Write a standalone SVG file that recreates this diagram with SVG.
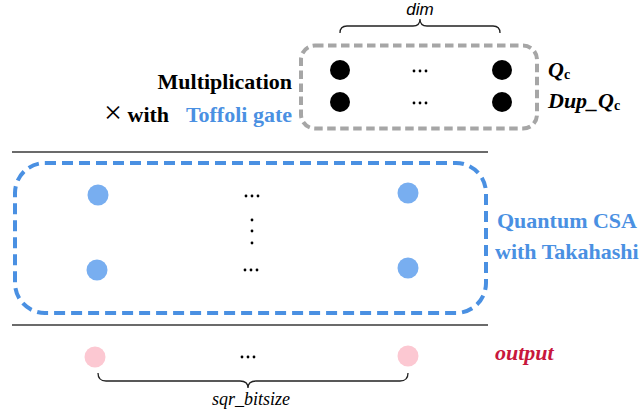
<svg xmlns="http://www.w3.org/2000/svg" width="643" height="418" viewBox="0 0 643 418">
  <style>
    .lbl { font-family: "Liberation Serif", "Times New Roman", "DejaVu Serif", serif; font-weight: bold; font-size: 22px; }
    .blue { fill: #4a90e2; }
    .dk { fill: #000; }
    .sep { stroke: #3a3a3a; stroke-width: 1.5; fill: none; }
    .brace { stroke: #222; stroke-width: 1.3; fill: none; }
    .qdot { fill: #000; }
    .cdot { fill: #78aef0; }
    .odot { fill: #fcc8d2; }
    .tiny { fill: #000; }
  </style>

  <!-- separators -->
  <g id="separators">
    <line class="sep" x1="12" y1="152" x2="488" y2="152"/>
    <line class="sep" x1="12" y1="325" x2="488" y2="325"/>
  </g>

  <!-- input register: Q_c and its duplicate -->
  <g id="input-register">
    <rect x="301" y="45.5" width="236" height="83" rx="14" ry="14" fill="none" stroke="#a6a6a6" stroke-width="4" stroke-dasharray="8.5 4.5"/>
    <circle class="qdot" cx="340" cy="70" r="10"/>
    <circle class="qdot" cx="340" cy="102" r="10"/>
    <circle class="qdot" cx="502" cy="70" r="10"/>
    <circle class="qdot" cx="502" cy="102" r="10"/>
    <g class="tiny">
      <circle cx="414" cy="71" r="1.4"/><circle cx="420" cy="71" r="1.4"/><circle cx="426" cy="71" r="1.4"/>
      <circle cx="414" cy="103" r="1.4"/><circle cx="420" cy="103" r="1.4"/><circle cx="426" cy="103" r="1.4"/>
    </g>
    <path class="brace" d="M340,33 Q340,26 347,26 L413,26 Q420,26 420,19 Q420,26 427,26 L493,26 Q500,26 500,33"/>
    <text x="420" y="15" text-anchor="middle" font-family="Liberation Sans, Arial, sans-serif" font-style="italic" font-size="17">dim</text>
    <text class="lbl dk" x="548" y="77" font-size="20" font-style="italic">Q<tspan font-style="normal" font-size="14" dy="2">c</tspan></text>
    <text class="lbl dk" x="548" y="108" font-size="20" font-style="italic">Dup_Q<tspan font-style="normal" font-size="14" dy="2">c</tspan></text>
  </g>

  <!-- multiplication label -->
  <g id="mult-label">
    <text class="lbl dk" x="292" y="89" text-anchor="end">Multiplication</text>
    <text class="lbl dk" x="104" y="123"><tspan font-weight="normal" font-size="32">×</tspan><tspan dy="-1"> with</tspan></text>
    <text class="lbl blue" x="292" y="122" text-anchor="end">Toffoli gate</text>
  </g>

  <!-- carry-save adder block -->
  <g id="csa-block">
    <rect x="15" y="163" width="471" height="150" rx="30" ry="30" fill="none" stroke="#4a90e2" stroke-width="4" stroke-dasharray="11 6"/>
    <circle class="cdot" cx="98" cy="195" r="10.5"/>
    <circle class="cdot" cx="97" cy="270" r="10.5"/>
    <circle class="cdot" cx="408" cy="193" r="10.5"/>
    <circle class="cdot" cx="408" cy="268" r="10.5"/>
    <g class="tiny">
      <circle cx="246" cy="196" r="1.4"/><circle cx="252" cy="196" r="1.4"/><circle cx="258" cy="196" r="1.4"/>
      <circle cx="252" cy="220" r="1.4"/><circle cx="252" cy="231" r="1.4"/><circle cx="252" cy="243" r="1.4"/>
      <circle cx="245" cy="270" r="1.4"/><circle cx="251" cy="270" r="1.4"/><circle cx="257" cy="270" r="1.4"/>
    </g>
    <text class="lbl blue" x="497" y="228">Quantum CSA</text>
    <text class="lbl blue" x="495" y="259">with Takahashi</text>
  </g>

  <!-- output register -->
  <g id="output-register">
    <circle class="odot" cx="95" cy="357" r="10.5"/>
    <circle class="odot" cx="408" cy="356" r="10.5"/>
    <g class="tiny">
      <circle cx="242" cy="357" r="1.4"/><circle cx="248" cy="357" r="1.4"/><circle cx="254" cy="357" r="1.4"/>
    </g>
    <path class="brace" d="M98,373 Q98,381 106,381 L240,381 Q248,381 248,388 Q248,381 256,381 L400,381 Q408,381 408,373"/>
    <text x="251" y="405" text-anchor="middle" font-family="'Liberation Serif', 'Times New Roman', serif" font-style="italic" font-size="18">sqr_bitsize</text>
    <text class="lbl" x="495" y="360" font-style="italic" fill="#c8173c">output</text>
  </g>
</svg>
